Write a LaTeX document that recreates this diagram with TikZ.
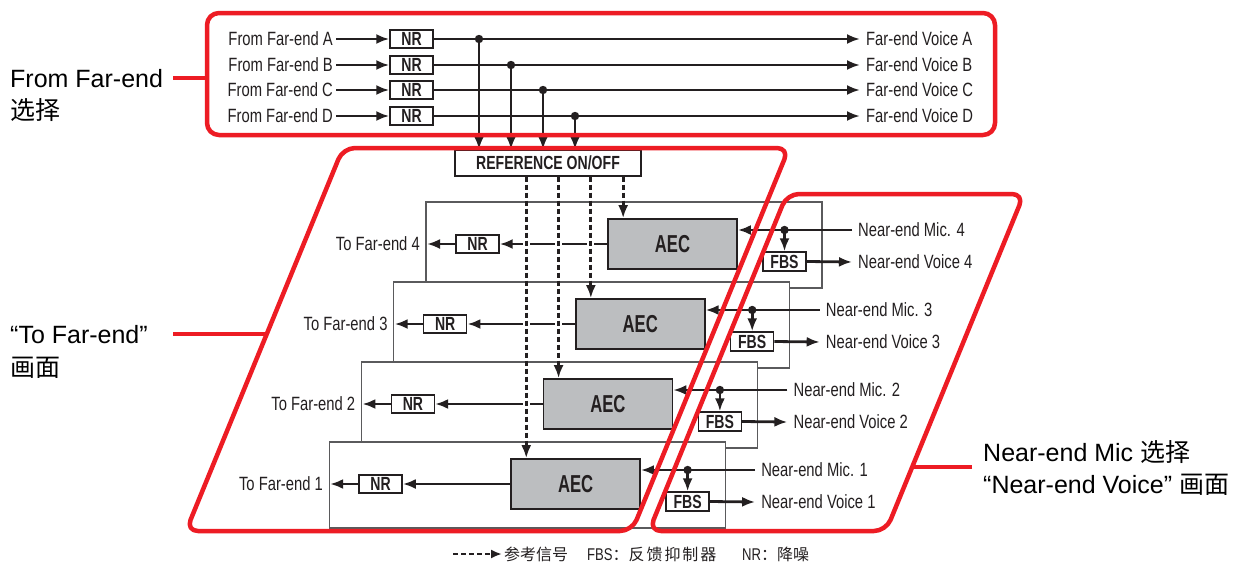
\documentclass[tikz,border=0pt]{standalone}
\usepackage{fontspec}
\usetikzlibrary{arrows.meta}
\setmainfont{Liberation Sans}
\newfontfamily\cond{Liberation Sans}[FakeStretch=0.77]
\newfontfamily\condb{Liberation Sans}[FakeStretch=0.74]
\newfontfamily\condaec{Liberation Sans}[FakeStretch=0.68]
\newfontfamily\cjk{Noto Sans CJK SC}
\definecolor{fxred}{RGB}{237,28,36}
\definecolor{ink}{RGB}{35,31,32}
\definecolor{aecgray}{RGB}{188,190,192}
\definecolor{panelgray}{RGB}{90,90,92}
\tikzset{
  sig/.style={draw=ink, line width=2.8pt, -{Latex[length=13pt,width=10pt]}},
  dsig/.style={sig, dash pattern=on 5pt off 3pt},
  smallbox/.style={draw=ink, line width=1.4pt, fill=white, minimum width=43pt, minimum height=18pt, inner sep=0pt, text=ink, font=\condb\bfseries\fontsize{19}{19}\selectfont},
  aecbox/.style={draw=ink, line width=1.7pt, fill=aecgray, minimum width=129pt, minimum height=50pt, inner sep=0pt, text=ink, font=\condaec\bfseries\fontsize{24.5}{24.5}\selectfont},
  panel/.style={draw=panelgray, line width=1.1pt, fill=white},
  lbl/.style={font=\cond\fontsize{19.2}{21}\selectfont, text=ink, inner ysep=0pt},
  redline/.style={draw=fxred, line width=4.5pt, line join=round},
  big/.style={font=\fontsize{25}{30}\selectfont, inner sep=0pt, anchor=base west, text=black},
  legend/.style={inner sep=0pt, anchor=west, text=ink, font=\cjk\fontsize{16}{16}\selectfont}
}
\begin{document}
\begin{tikzpicture}[x=1pt,y=-1pt]
\useasboundingbox (0,0) rectangle (1241,562);
\fill[white] (0,0) rectangle (1241,562);

% ---------- top section: From Far-end ----------
\node[draw=ink, line width=1.1pt, fill=white, minimum width=186pt, minimum height=26pt, inner sep=0pt, text=ink, font=\condb\bfseries\fontsize{19}{19}\selectfont] (ref) at (548,163) {REFERENCE ON/OFF};

\foreach \L/\y/\jx in {A/39/479, B/65/511, C/90/543, D/116/575} {
  \node[lbl, anchor=east, inner xsep=3pt] (from\L) at (336,\y) {From Far-end \L};
  \node[smallbox] (tnr\L) at (411.5,\y) {NR};
  \node[lbl, anchor=west, inner xsep=6pt] (fv\L) at (860,\y) {Far-end Voice \L};
  \draw[sig] (from\L.east) -- (tnr\L.west);
  \draw[sig] (tnr\L.east) -- (fv\L.west);
  \coordinate (tj\L) at (\jx,\y);
}
\foreach \L in {A,B,C,D} {
  \fill[ink] (tj\L) circle (4.2pt);
  \draw[sig] (tj\L) -- (tj\L |- ref.north);
}

% ---------- stacked channel panels ----------
\foreach \k/\m in {4/0,3/1,2/2,1/3} {
  \begin{scope}[shift={(-32.3*\m,80*\m)}]
    \draw[panel] (426,202) rectangle (822,288);
    \node[aecbox] (aec\k) at (672.5,244) {AEC};
    \node[smallbox] (nr\k) at (477.5,244) {NR};
    \node[lbl, anchor=east, inner xsep=7pt] (to\k) at (427,244) {To Far-end \k};
    \node[lbl, anchor=west, inner xsep=6pt] (mic\k) at (852,230) {Near-end Mic. \k};
    \node[smallbox, minimum height=19pt] (fbs\k) at (784.5,261.5) {FBS};
    \node[lbl, anchor=west, inner xsep=6pt] (voice\k) at (852,262) {Near-end Voice \k};
    \draw[sig] (aec\k.west) -- (nr\k.east);
    \draw[sig] (nr\k.west) -- (to\k.east);
    \draw[sig] (mic\k.west) -- (mic\k.west -| aec\k.east);
    \coordinate (j\k) at (mic\k.west -| fbs\k.north);
    \fill[ink] (j\k) circle (4.2pt);
    \draw[sig] (j\k) -- (fbs\k.north);
    \draw[sig] (fbs\k.east) -- (voice\k.west);
  \end{scope}
}

% reference (dashed) lines
\foreach \k in {1,...,4} {
  \coordinate (d\k) at ([xshift=16pt]aec\k.north west);
}
\foreach \j/\r in {1/2,1/3,1/4,2/3,2/4,3/4} {
  \fill[white] (d\j |- aec\r.west) ++(-3.5,-2.5) rectangle ++(7,5);
}
\foreach \k in {1,...,4} {
  \draw[dsig] (d\k |- ref.south) -- (d\k);
}

% ---------- red selection outlines ----------
\draw[redline, rounded corners=12pt] (207,13) rectangle (995,135);
\draw[redline, rounded corners=12pt] (343,148) -- (789,148) -- (632,531) -- (186,531) -- cycle;
\draw[redline, rounded corners=12pt] (787,194) -- (1024,194) -- (886,531) -- (649,531) -- cycle;

% labels
\node[big] (lf1) at (10,87) {From Far-end};
\node[big] (lf2) at (10,119) {\cjk 选择};
\node[big] (lt1) at (10,343) {“To Far-end”};
\node[big] (lt2) at (10,376) {\cjk 画面};
\node[big] (ln1) at (983,461) {Near-end Mic {\cjk 选择}};
\node[big] (ln2) at (983,493) {“Near-end Voice” {\cjk 画面}};
\coordinate (cf) at (173,78);
\coordinate (ct) at (173,334);
\coordinate (cn) at (972,467);
\draw[redline] (cf) -- (cf -| 207,0);
\draw[redline] (ct) -- (ct -| 267,0);
\draw[redline] (cn) -- (cn -| 912,0);

% ---------- legend ----------
\coordinate (lg0) at (453,554);
\node[legend, inner xsep=2pt] (lg1) at (502,554) {参考信号};
\node[legend] (lg2) at (587,554) {{\cond\fontsize{17}{17}\selectfont FBS}：\addfontfeature{LetterSpace=12}反馈抑制器};
\node[legend] (lg3) at (742,554) {{\cond\fontsize{17}{17}\selectfont NR}：降噪};
\draw[dsig, line width=2.2pt, -{Latex[length=11pt,width=9pt]}] (lg0) -- (lg1.west);
\end{tikzpicture}
\end{document}
